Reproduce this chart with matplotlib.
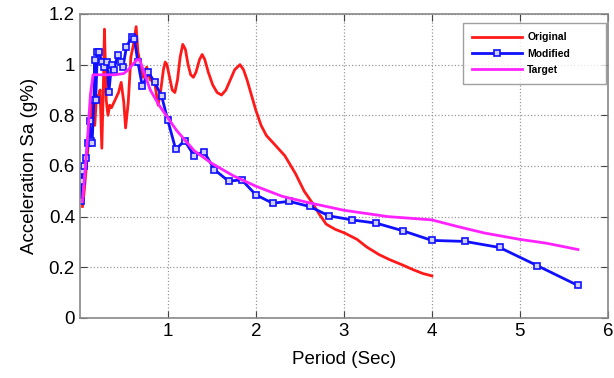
import matplotlib
matplotlib.use('Agg')
import matplotlib.pyplot as plt

plt.rcParams['font.family'] = ['Liberation Sans', 'DejaVu Sans']

# original record spectrum
orig_x = [0.03, 0.05, 0.07, 0.09, 0.11, 0.13, 0.15, 0.17, 0.19, 0.21, 0.23, 0.25, 0.27, 0.28,
          0.30, 0.32, 0.34, 0.36, 0.40, 0.44, 0.47, 0.50, 0.52, 0.55, 0.58, 0.61, 0.64, 0.66,
          0.69, 0.72, 0.76, 0.80, 0.85, 0.89, 0.92, 0.95, 0.97, 0.99, 1.02, 1.05, 1.08, 1.11,
          1.14, 1.17, 1.20, 1.23, 1.26, 1.29, 1.32, 1.36, 1.39, 1.42, 1.46, 1.51, 1.56, 1.61,
          1.66, 1.71, 1.76, 1.82, 1.86, 1.90, 1.95, 2.00, 2.06, 2.12, 2.20, 2.33, 2.45, 2.55,
          2.63, 2.72, 2.80, 2.90, 3.01, 3.15, 3.26, 3.40, 3.52, 3.66, 3.79, 3.90, 4.00]
orig_y = [0.44, 0.50, 0.58, 0.66, 0.74, 0.83, 0.86, 0.76, 0.88, 0.86, 0.90, 0.67, 0.95, 1.14,
          0.86, 0.80, 0.84, 0.83, 0.86, 0.89, 0.93, 0.85, 0.75, 0.85, 1.03, 1.08, 1.15, 1.05,
          1.00, 0.95, 0.99, 0.94, 0.93, 0.84, 0.90, 0.98, 1.01, 1.00, 0.95, 0.90, 0.89, 0.94,
          1.03, 1.08, 1.06, 1.00, 0.96, 0.95, 0.97, 1.02, 1.04, 1.02, 0.97, 0.92, 0.89, 0.88,
          0.90, 0.94, 0.98, 1.00, 0.98, 0.94, 0.88, 0.82, 0.76, 0.72, 0.69, 0.64, 0.57, 0.50,
          0.46, 0.41, 0.37, 0.35, 0.335, 0.31, 0.28, 0.25, 0.23, 0.21, 0.19, 0.175, 0.166]

# modified (matched) spectrum
mod_x = [0.01, 0.02, 0.03, 0.05, 0.07, 0.09, 0.11, 0.125, 0.14, 0.16, 0.17, 0.18, 0.20, 0.22,
         0.25, 0.28, 0.31, 0.33, 0.36, 0.39, 0.43, 0.47, 0.49, 0.53, 0.59, 0.62, 0.66, 0.71,
         0.78, 0.85, 0.93, 1.00, 1.09, 1.19, 1.30, 1.41, 1.53, 1.69, 1.84, 2.00, 2.19, 2.38,
         2.61, 2.83, 3.09, 3.37, 3.67, 4.00, 4.375, 4.77, 5.20, 5.66]
mod_y = [0.46, 0.54, 0.58, 0.60, 0.63, 0.69, 0.776, 0.70, 0.69, 0.86, 1.02, 0.86, 1.05, 1.05,
         1.01, 0.99, 1.01, 0.89, 1.00, 0.98, 1.04, 1.01, 0.99, 1.07, 1.11, 1.10, 1.01, 0.915,
         0.97, 0.93, 0.875, 0.78, 0.665, 0.70, 0.64, 0.657, 0.585, 0.54, 0.545, 0.486, 0.453, 0.46,
         0.44, 0.403, 0.387, 0.374, 0.344, 0.306, 0.302, 0.278, 0.206, 0.128]

# target spectrum
tgt_x = [0.03, 0.06, 0.09, 0.12, 0.15, 0.2, 0.3, 0.4, 0.5, 0.55, 0.6, 0.65, 0.68, 0.72, 0.8,
         0.9, 1.0, 1.1, 1.2, 1.3, 1.5, 1.75, 2.0, 2.3, 2.6, 3.0, 3.5, 4.0, 4.3, 4.6, 5.0, 5.3, 5.66]
tgt_y = [0.46, 0.58, 0.72, 0.88, 0.96, 0.96, 0.96, 0.96, 0.965, 0.98, 1.0, 1.02, 1.02, 0.98, 0.90,
         0.84, 0.79, 0.74, 0.70, 0.66, 0.61, 0.56, 0.52, 0.48, 0.455, 0.425, 0.40, 0.387, 0.36,
         0.335, 0.31, 0.295, 0.27]

fig = plt.figure(figsize=(6.14, 3.78), dpi=100)
ax = fig.add_axes([0.130, 0.159, 0.860, 0.804])

ax.plot(orig_x, orig_y, color='#ff1a1a', lw=2, label='Original')
ax.plot(mod_x, mod_y, color='#1010ff', lw=2, marker='s', ms=4.5, mfc='#d0d0ff', mec='#1010ff',
        mew=1.2, label='Modified')
ax.plot(tgt_x, tgt_y, color='#ff22ff', lw=2, label='Target')

ax.set_xlim(0, 6)
ax.set_ylim(0, 1.2)
ax.set_xticks([1, 2, 3, 4, 5, 6])
ax.set_yticks([0, 0.2, 0.4, 0.6, 0.8, 1, 1.2])
ax.set_yticklabels(['0', '0.2', '0.4', '0.6', '0.8', '1', '1.2'])
ax.grid(True, linestyle=':', color='#999999', lw=0.9)
ax.tick_params(direction='in', top=True, right=True, labelsize=13.5, length=5, color='#444444')
for s in ax.spines.values():
    s.set_color('#888888')
    s.set_linewidth(1.2)

ax.set_xlabel('Period (Sec)', fontsize=13.5, labelpad=8)
ax.set_ylabel('Acceleration Sa (g%)', fontsize=13.5, labelpad=8)

leg = ax.legend(loc='upper left', bbox_to_anchor=(0.725, 0.773, 0.271, 0.197), mode='expand',
                prop={'size': 7.5, 'weight': 'bold'}, handlelength=4.8, handletextpad=0.5,
                fancybox=False, edgecolor='#888888', borderpad=0.9, labelspacing=0.6,
                borderaxespad=0)
leg.get_frame().set_linewidth(1)

fig.savefig('out.png', dpi=100)
